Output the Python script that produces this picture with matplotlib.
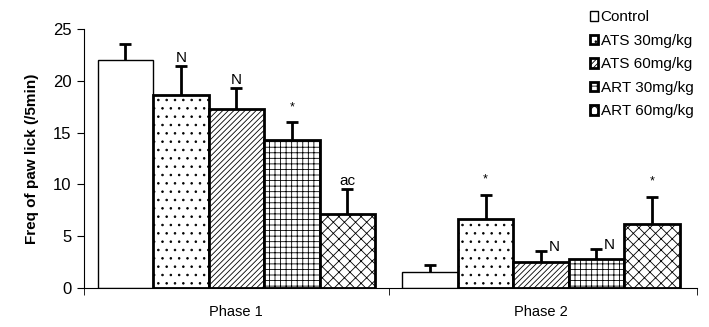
import matplotlib
matplotlib.use("Agg")
import matplotlib.pyplot as plt
import numpy as np

plt.rcParams['font.family'] = ['Liberation Sans', 'DejaVu Sans']
plt.rcParams['hatch.linewidth'] = 0.6

phases = ["Phase 1", "Phase 2"]
groups = ["Control", "ATS 30mg/kg", "ATS 60mg/kg", "ART 30mg/kg", "ART 60mg/kg"]
means = {
    "Control":     [22.0, 1.5],
    "ATS 30mg/kg": [18.6, 6.7],
    "ATS 60mg/kg": [17.3, 2.5],
    "ART 30mg/kg": [14.3, 2.8],
    "ART 60mg/kg": [7.1, 6.2],
}
errs = {
    "Control":     [1.6, 0.7],
    "ATS 30mg/kg": [2.8, 2.3],
    "ATS 60mg/kg": [2.0, 1.1],
    "ART 30mg/kg": [1.7, 1.0],
    "ART 60mg/kg": [2.5, 2.6],
}
marks = {
    "Control":     ["", ""],
    "ATS 30mg/kg": ["N", "*"],
    "ATS 60mg/kg": ["N", "N"],
    "ART 30mg/kg": ["*", "N"],
    "ART 60mg/kg": ["ac", "*"],
}
hatches = ["", "..", "//////", "+++", "xxx"]
edge_w = [1.0, 2.0, 2.0, 2.0, 2.0]

fig = plt.figure(figsize=(7.09, 3.27), dpi=100)
ax = fig.add_axes([0.1185, 0.1193, 0.8645, 0.7917])

x = np.arange(len(phases))
w = 0.182
for i, g in enumerate(groups):
    pos = x + (i - 2) * w
    m = np.array(means[g])
    e = np.array(errs[g])
    ax.bar(pos, m, width=w, color="white", edgecolor="black",
           hatch=hatches[i], linewidth=edge_w[i], label=g, zorder=2)
    ax.vlines(pos, m, m + e, color="black", linewidth=2, zorder=3)
    ax.plot(pos, m + e, linestyle="none", marker="_", markersize=9,
            markeredgewidth=2, color="black", zorder=3)
    for p, mm, ee, t in zip(pos, m, e, marks[g]):
        if not t:
            continue
        if t == "*":
            ax.text(p, mm + ee + 0.9, t, ha="center", va="bottom", fontsize=9)
        elif t == "N" and mm + ee < 5:
            ax.text(p + 0.025, mm + ee - 0.3, t, ha="left", va="bottom", fontsize=11)
        else:
            ax.text(p, mm + ee + 0.1, t, ha="center", va="bottom", fontsize=11)

ax.set_xlim(-0.5, 1.512)
ax.set_ylim(0, 25)
ax.set_yticks([0, 5, 10, 15, 20, 25])
ax.set_xticks(x)
ax.set_xticklabels(phases, fontsize=10.5)
ax.tick_params(axis='x', length=0, pad=12)
ax.set_xticks([-0.5, 0.5, 1.512], minor=True)
ax.tick_params(axis='x', which='minor', length=5, direction='out')
ax.tick_params(axis='y', labelsize=12, length=5, direction='out', pad=4)
ax.spines['top'].set_visible(False)
ax.spines['right'].set_visible(False)
ax.set_ylabel("Freq of paw lick (/5min)", fontsize=11, fontweight='bold', labelpad=10)

leg = fig.legend(loc="upper left", bbox_to_anchor=(0.832, 0.968), frameon=False,
                 handlelength=0.55, handleheight=0.55, handletextpad=0.15,
                 labelspacing=0.62, fontsize=11, borderaxespad=0, borderpad=0)

fig.savefig("out.png", dpi=100)
